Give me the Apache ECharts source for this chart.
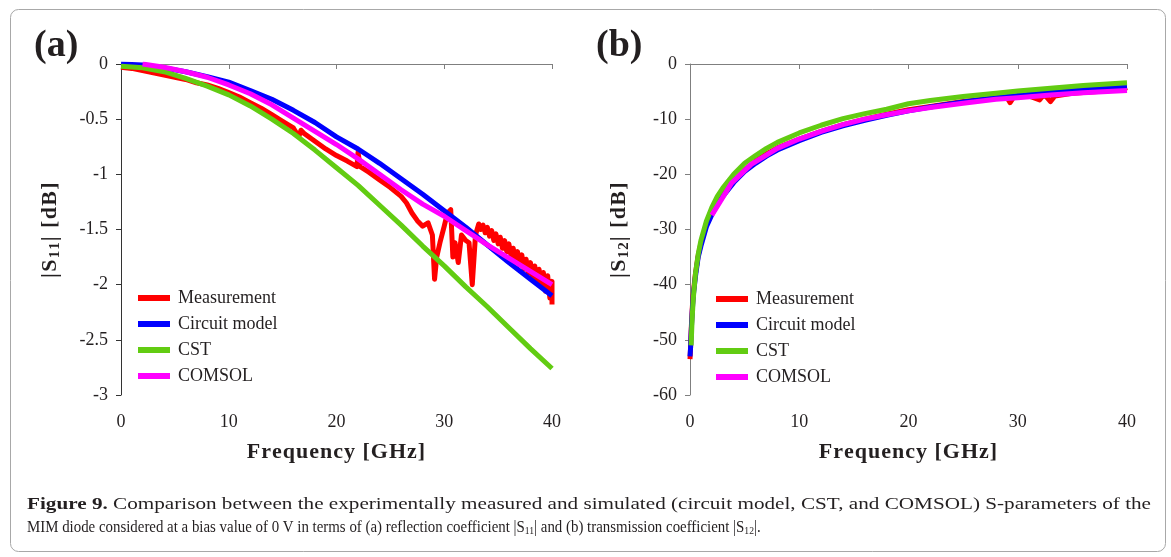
<!DOCTYPE html>
<html>
<head>
<meta charset="utf-8">
<script src="https://cdn.jsdelivr.net/npm/echarts@6/dist/echarts.min.js"></script>
<style>
  html, body { margin: 0; padding: 0; background: #fff; }
  #main { width: 1171px; height: 557px; }
</style>
</head>
<body>
<div id="main"></div>
<script>
"use strict";
// series names and colours
let seriesNames = ['Measurement', 'Circuit model', 'CST', 'COMSOL'];
let seriesColors = ['#ff0000', '#0000ff', '#62cc12', '#ff00ff'];

// (a) |S11| [dB] vs frequency [GHz]
let s11MeasF = [0, 1, 2, 3, 4, 5, 6, 7, 8, 9, 10, 11, 12, 13, 14, 15, 16, 16.5, 16.7, 17, 18, 19, 20, 21, 21.9, 22, 22.2, 23, 24, 25, 26, 26.5, 27, 27.5, 28, 28.5, 28.9, 29.1, 29.3, 29.6, 30, 30.3, 30.6, 30.8, 31, 31.3, 31.6, 32, 32.3, 32.6, 32.9, 33.2,
  33.4, 33.6, 33.8, 34.0, 34.2, 34.4, 34.6, 34.8, 35.0, 35.2, 35.4, 35.6, 35.8, 36.0, 36.2, 36.4, 36.6, 36.8, 37.0, 37.2, 37.4, 37.6, 37.8, 38.0, 38.2, 38.4, 38.6, 38.8, 39.0, 39.2, 39.4, 39.6, 39.8, 40.0, 40.0];
let s11MeasV = [-0.03, -0.04, -0.06, -0.08, -0.1, -0.12, -0.14, -0.17, -0.19, -0.22, -0.26, -0.3, -0.35, -0.4, -0.46, -0.52, -0.58, -0.66, -0.6, -0.63, -0.7, -0.77, -0.83, -0.88, -0.93, -0.8, -0.93, -0.98, -1.05, -1.12, -1.2, -1.26, -1.35, -1.42, -1.47, -1.44, -1.55, -1.95, -1.75, -1.62, -1.47, -1.35, -1.32, -1.75, -1.62, -1.8, -1.55, -1.6, -1.62, -2.0, -1.55, -1.45,
  -1.50, -1.46, -1.53, -1.48, -1.56, -1.51, -1.60, -1.54, -1.63, -1.57, -1.67, -1.60, -1.70, -1.63, -1.74, -1.67, -1.78, -1.70, -1.82, -1.73, -1.86, -1.77, -1.90, -1.80, -1.94, -1.83, -1.98, -1.86, -2.02, -1.89, -2.06, -1.92, -2.12, -1.97, -2.18];
let s11CircF = [0, 2, 4, 6, 8, 10, 12, 14, 16, 18, 20, 22, 24, 26, 28, 30, 32, 34, 36, 38, 40];
let s11CircV = [0, -0.01, -0.035, -0.07, -0.115, -0.165, -0.24, -0.32, -0.42, -0.53, -0.66, -0.77, -0.9, -1.04, -1.18, -1.33, -1.48, -1.64, -1.8, -1.95, -2.1];
let s11CstF = [0, 2, 4, 6, 8, 10, 12, 14, 16, 18, 20, 22, 24, 26, 28, 30, 32, 34, 36, 38, 40];
let s11CstV = [-0.02, -0.035, -0.07, -0.13, -0.2, -0.28, -0.38, -0.5, -0.63, -0.78, -0.94, -1.1, -1.28, -1.46, -1.65, -1.83, -2.02, -2.2, -2.39, -2.58, -2.76];
let s11ComF = [2, 4, 6, 8, 10, 12, 14, 16, 18, 20, 22, 24, 26, 28, 30, 32, 34, 36, 38, 40];
let s11ComV = [0, -0.03, -0.07, -0.12, -0.19, -0.27, -0.37, -0.49, -0.61, -0.73, -0.86, -1.0, -1.14, -1.27, -1.38, -1.51, -1.64, -1.76, -1.88, -2.0];

// (b) |S12| [dB] vs frequency [GHz]
let s12MeasF = [0, 0.05, 0.1, 0.2, 0.3, 0.5, 0.75, 1, 1.5, 2, 2.5, 3, 4, 5, 6, 7, 8, 10, 12, 14, 16, 18, 20, 22, 25, 28, 29, 29.3, 29.6, 30, 31, 32, 32.3, 32.6, 33, 33.4, 35, 38, 39.6, 40];
let s12MeasV = [-53.5, -51.5, -48.5, -44.5, -41.5, -38, -34.7, -32.5, -29.2, -27, -25.2, -23.7, -21.2, -19.2, -17.6, -16.3, -15.2, -13.6, -12.2, -11, -10, -9.1, -8.3, -7.7, -6.8, -6.1, -6.0, -7.0, -6.1, -5.9, -5.8, -6.5, -5.8, -5.9, -6.8, -5.8, -5.3, -4.9, -4.6, -4.3];
let s12CircF = [0, 0.05, 0.1, 0.2, 0.3, 0.5, 0.75, 1, 1.5, 2, 2.5, 3, 4, 5, 6, 7, 8, 10, 12, 14, 16, 18, 20, 22, 25, 28, 30, 33, 36, 40];
let s12CircV = [-53, -51.5, -49, -45, -42, -38.5, -35, -33, -29.5, -27.3, -25.5, -24, -21.5, -19.5, -18, -16.7, -15.6, -13.9, -12.4, -11.2, -10.2, -9.3, -8.5, -7.8, -6.9, -6.1, -5.7, -5.1, -4.6, -4.1];
let s12CstF = [0.1, 0.2, 0.3, 0.5, 0.75, 1, 1.5, 2, 2.5, 3, 4, 5, 6, 7, 8, 10, 12, 14, 16, 18, 20, 22, 25, 28, 30, 33, 36, 40];
let s12CstV = [-51, -46, -42.5, -38, -34.5, -32, -28.5, -26, -24, -22.5, -20, -18, -16.6, -15.3, -14.2, -12.5, -11.1, -9.9, -9, -8.2, -7.2, -6.6, -5.9, -5.3, -4.9, -4.4, -3.9, -3.4];
let s12ComF = [2, 3.8, 5.6, 8, 10, 12, 14, 16, 18, 20, 22, 25, 28, 30, 33, 36, 40];
let s12ComV = [-27.4, -21.6, -18.2, -15.3, -13.6, -12.2, -11.0, -10.0, -9.2, -8.5, -7.9, -7.1, -6.4, -6.1, -5.6, -5.2, -4.8];

let xTicks = [0, 10, 20, 30, 40];

let captionBold = 'Figure 9.';
let captionLine1 = ' Comparison between the experimentally measured and simulated (circuit model, CST, and COMSOL) S-parameters of the';
let captionLine2 = 'MIM diode considered at a bias value of 0 V in terms of (a) reflection coefficient |S{s|11}| and (b) transmission coefficient |S{s|12}|.';
let captionLine2Plain = 'MIM diode considered at a bias value of 0 V in terms of (a) reflection coefficient |S11| and (b) transmission coefficient |S12|.';

function zip(xs, ys) {
    let out = [];
    for (let i = 0; i < xs.length; i++) out.push([xs[i], ys[i]]);
    return out;
}

// wrap each character in a rich token so the text gets letter spacing
function spaced(str, tok) {
    return str.split('').map(c => '{' + tok + '|' + c + '}').join('');
}

const serif = '"Liberation Serif", "Times New Roman", serif';
const ink = '#231f20';
const capSize = 17;

// horizontal scale so a caption line spans the same width as in the original
const measureCtx = document.createElement('canvas').getContext('2d');
function textWidth(str, weight) {
    measureCtx.font = (weight ? weight + ' ' : '') + capSize + 'px ' + serif;
    return measureCtx.measureText(str).width;
}
let cap1Scale = 1124 / (textWidth(captionBold, 'bold') + textWidth(captionLine1));
let cap2Scale = 744 / textWidth(captionLine2Plain);

function lineSeries(idx, axisIdx, xs, ys) {
    return {
        name: seriesNames[idx],
        type: 'line',
        xAxisIndex: axisIdx,
        yAxisIndex: axisIdx,
        data: zip(xs, ys),
        showSymbol: false,
        symbol: 'none',
        lineStyle: { color: seriesColors[idx], width: 5, join: 'round' },
        itemStyle: { color: seriesColors[idx] },
        emphasis: { disabled: true }
    };
}

function xAxisCfg(grid, lineColor) {
    return {
        gridIndex: grid,
        type: 'value',
        min: xTicks[0], max: xTicks[xTicks.length - 1], interval: 10,
        name: spaced('Frequency [GHz]', 'l'),
        nameLocation: 'middle',
        nameGap: 46,
        nameTextStyle: {
            rich: { l: { fontFamily: serif, fontWeight: 'bold', fontSize: 22, color: ink, padding: [0, 1.0, 0, 0] } }
        },
        axisLine: { lineStyle: { color: lineColor, width: 1 } },
        axisTick: { show: true, inside: false, length: 5, lineStyle: { color: lineColor } },
        axisLabel: { fontFamily: serif, fontSize: 18, color: ink, margin: 18 },
        splitLine: { show: false }
    };
}

function yAxisCfg(grid, min, interval, sub, lineColor) {
    return {
        gridIndex: grid,
        type: 'value',
        min: min, max: 0, interval: interval,
        name: spaced('|S', 'm') + spaced(sub, 's') + spaced('| [dB]', 'm'),
        nameLocation: 'middle',
        nameRotate: 90,
        nameGap: 58,
        nameTextStyle: {
            rich: {
                m: { fontFamily: serif, fontWeight: 'bold', fontSize: 22, color: ink, verticalAlign: 'middle', padding: [0, 1.4, 0, 0] },
                s: { fontFamily: serif, fontWeight: 'bold', fontSize: 15, color: ink, verticalAlign: 'bottom', padding: [10, 1, 0, 0] }
            }
        },
        axisLine: { show: true, lineStyle: { color: lineColor, width: 1 } },
        axisTick: { show: true, inside: false, length: 5, lineStyle: { color: lineColor } },
        axisLabel: { fontFamily: serif, fontSize: 18, color: ink, margin: 13 },
        splitLine: { show: false }
    };
}

function legendCfg(left, top) {
    return {
        orient: 'vertical',
        left: left, top: top,
        data: seriesNames,
        icon: 'rect',
        itemWidth: 32, itemHeight: 6,
        itemGap: 8,
        selectedMode: false,
        textStyle: { fontFamily: serif, fontSize: 18, color: ink, padding: [0, 0, 0, 3], lineHeight: 18 }
    };
}

let myChart = echarts.init(document.getElementById('main'), null, { renderer: 'canvas' });
let option = {
    animation: false,
    backgroundColor: '#fff',
    grid: [
        { left: 121, top: 64, width: 431, height: 331 },
        { left: 690, top: 64, width: 437, height: 331 }
    ],
    xAxis: [xAxisCfg(0, '#7f7f7f'), xAxisCfg(1, '#7f7f7f')],
    yAxis: [yAxisCfg(0, -3, 0.5, '11', '#333'), yAxisCfg(1, -60, 10, '12', '#7f7f7f')],
    legend: [legendCfg(133, 284), legendCfg(711, 285)],
    series: [
        lineSeries(0, 0, s11MeasF, s11MeasV),
        lineSeries(1, 0, s11CircF, s11CircV),
        lineSeries(2, 0, s11CstF, s11CstV),
        lineSeries(3, 0, s11ComF, s11ComV),
        lineSeries(0, 1, s12MeasF, s12MeasV),
        lineSeries(1, 1, s12CircF, s12CircV),
        lineSeries(2, 1, s12CstF, s12CstV),
        lineSeries(3, 1, s12ComF, s12ComV)
    ],
    graphic: [
        { type: 'rect', left: 8, top: 7, shape: { width: 1155, height: 542, r: 8 }, style: { fill: 'none', stroke: '#a8a8a8', lineWidth: 1 }, silent: true },
        { type: 'text', left: 34, top: 27, style: { text: '(a)', font: 'bold 38px ' + serif, fill: ink } },
        { type: 'text', left: 596, top: 27, style: { text: '(b)', font: 'bold 38px ' + serif, fill: ink } },
        // the first caption line is justified to the full width, the last line is not
        { type: 'text', x: 27, y: 496, scaleX: cap1Scale, style: {
            x: 0, y: 0, verticalAlign: 'top',
            text: '{b|' + captionBold + '}' + captionLine1,
            font: capSize + 'px ' + serif, fill: ink,
            rich: { b: { fontFamily: serif, fontSize: capSize, fontWeight: 'bold', fill: ink } }
        } },
        { type: 'text', x: 27, y: 519, scaleX: cap2Scale, style: {
            x: 0, y: 0, verticalAlign: 'top',
            text: captionLine2,
            font: capSize + 'px ' + serif, fill: ink,
            rich: { s: { fontFamily: serif, fontSize: 11, fill: ink, verticalAlign: 'bottom', padding: [7, 0, 0, 0] } }
        } }
    ]
};
myChart.setOption(option);
</script>
</body>
</html>
